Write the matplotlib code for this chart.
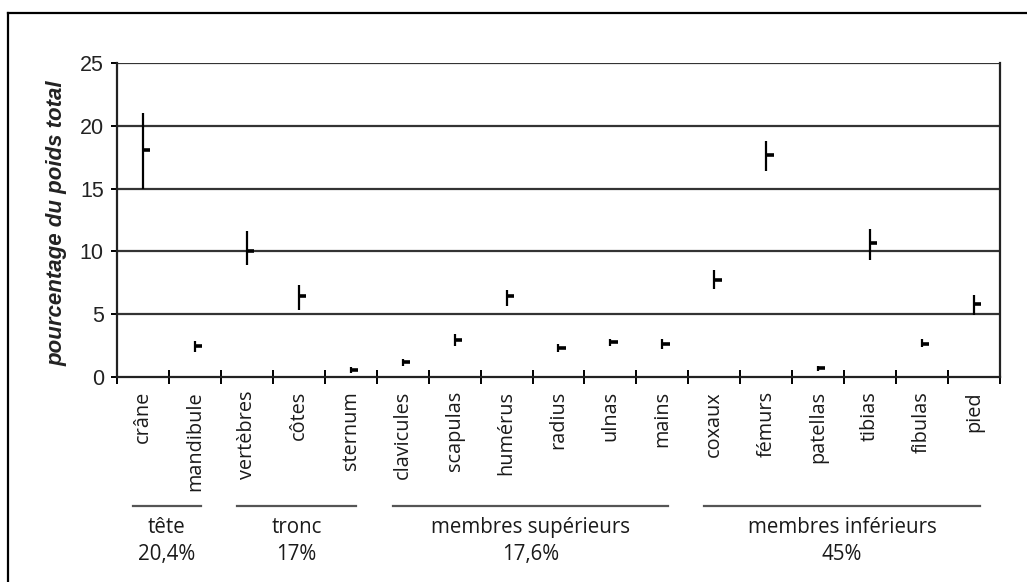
import matplotlib
matplotlib.use("Agg")
import matplotlib.pyplot as plt
import matplotlib.transforms as mtransforms
from matplotlib.lines import Line2D

# os du squelette : min, max et moyenne (% du poids total)
categories = ['crâne', 'mandibule', 'vertèbres', 'côtes', 'sternum',
              'clavicules', 'scapulas', 'humérus', 'radius', 'ulnas', 'mains',
              'coxaux', 'fémurs', 'patellas', 'tibias', 'fibulas', 'pied']
high = [21.0, 2.85, 11.6, 7.3, 0.8, 1.45, 3.45, 6.95, 2.6, 3.05, 3.0,
        8.55, 18.75, 0.9, 11.75, 3.0, 6.55]
low = [15.0, 2.0, 8.95, 5.35, 0.3, 0.9, 2.45, 5.65, 2.0, 2.45, 2.2,
       7.0, 16.4, 0.5, 9.35, 2.35, 4.9]
mean = [18.05, 2.45, 10.05, 6.45, 0.55, 1.2, 2.95, 6.45, 2.3, 2.75, 2.6,
        7.75, 17.7, 0.7, 10.65, 2.65, 5.85]

groups = ['tête', 'tronc', 'membres supérieurs', 'membres inférieurs']
group_pct = ['20,4%', '17%', '17,6%', '45%']
group_first = [0, 2, 5, 11]
group_last = [1, 4, 10, 16]

fig = plt.figure(figsize=(10.27, 5.82), dpi=100)
ax = fig.add_axes([0.1139, 0.3522, 0.8598, 0.5396])

x = list(range(len(categories)))
ax.vlines(x, low, high, color='black', lw=1.6)
ax.hlines(mean, x, [v + 0.14 for v in x], color='black', lw=2.6)

ax.set_xlim(-0.5, len(categories) - 0.5)
ax.set_ylim(0, 25)
ax.set_yticks([0, 5, 10, 15, 20, 25])
for yv in [5, 10, 15, 20, 25]:
    ax.axhline(yv, color='#333333', lw=1.6, zorder=0)

ax.spines['top'].set_visible(False)
for side in ['left', 'right', 'bottom']:
    ax.spines[side].set_linewidth(1.6)
    ax.spines[side].set_color('#222222')

ax.set_xticks(x)
ax.set_xticklabels(categories, rotation=90, va='top', ha='center',
                   fontsize=14.3, family='Open Sans', color='#1a1a1a')
ax.set_xticks([v - 0.5 for v in range(len(categories) + 1)], minor=True)
ax.tick_params(axis='x', which='major', length=0, pad=10)
ax.tick_params(axis='x', which='minor', direction='inout', length=9.5, width=1.4)
ax.tick_params(axis='y', direction='out', length=4.5, width=1.4, pad=5,
               labelsize=15.5)
for lab in ax.get_yticklabels():
    lab.set_family('Liberation Sans')
    lab.set_color('#222222')

ax.set_ylabel('pourcentage du poids total', fontsize=16, family='Liberation Sans',
              fontweight='bold', fontstyle='italic', color='#222222')
ax.yaxis.set_label_coords(-0.056, 0.489)

# groupes sous l'axe
trans = mtransforms.blended_transform_factory(ax.transData, fig.transFigure)
for g, pct, a, b in zip(groups, group_pct, group_first, group_last):
    ax.add_line(Line2D([a - 0.19, b + 0.11], [0.1306, 0.1306], transform=trans,
                       color='#555555', lw=1.6, clip_on=False))
    xc = (a - 0.19 + b + 0.11) / 2
    ax.text(xc, 0.0945, g, transform=trans, ha='center', va='center',
            fontsize=14.8, family='Open Sans', color='#1a1a1a')
    ax.text(xc, 0.0464, pct, transform=trans, ha='center', va='center',
            fontsize=14.8, family='Open Sans', color='#1a1a1a')

# cadre
fig.add_artist(Line2D([0.0078, 1.0], [0.9777, 0.9777], color='black', lw=1.6))
fig.add_artist(Line2D([0.0078, 0.0078], [0.0, 0.9777], color='black', lw=1.6))

fig.savefig('out.png', dpi=100)
